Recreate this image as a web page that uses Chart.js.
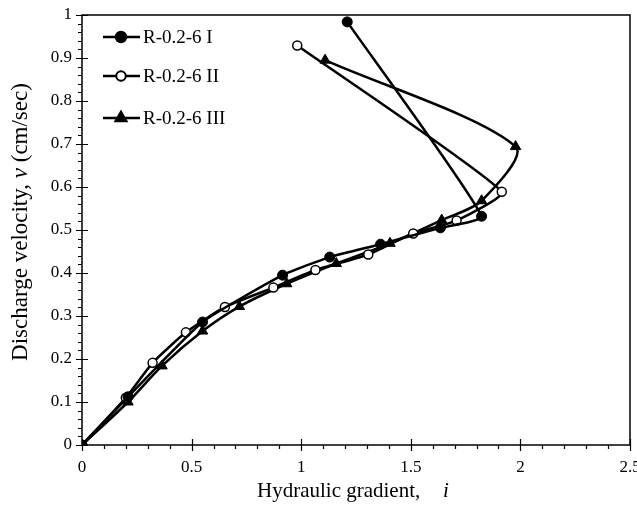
<!DOCTYPE html>
<html>
<head>
<meta charset="utf-8">
<script src="https://cdn.jsdelivr.net/npm/chart.js@4.4.1/dist/chart.umd.min.js"></script>
<style>
  html, body { margin: 0; padding: 0; background: #fff; }
  canvas { display: block; }
</style>
</head>
<body>
<canvas id="chart-flow" width="637" height="505"></canvas>
<script>
var seriesNames = ['R-0.2-6 I', 'R-0.2-6 II', 'R-0.2-6 III'];

// hydraulic gradient i / discharge velocity v (cm/sec)
var gradI   = [0, 0.21, 0.55, 0.915, 1.13, 1.362, 1.635, 1.823, 1.21];
var velI    = [0, 0.112, 0.286, 0.395, 0.437, 0.467, 0.505, 0.532, 0.984];
var gradII  = [0, 0.20, 0.322, 0.474, 0.652, 0.873, 1.065, 1.306, 1.511, 1.709, 1.915, 0.982];
var velII   = [0, 0.11, 0.191, 0.262, 0.321, 0.366, 0.407, 0.443, 0.492, 0.522, 0.589, 0.929];
var gradIII = [0, 0.21, 0.365, 0.55, 0.718, 0.934, 1.16, 1.405, 1.641, 1.823, 1.978, 1.109];
var velIII  = [0, 0.10, 0.184, 0.265, 0.322, 0.375, 0.422, 0.469, 0.523, 0.568, 0.694, 0.895];

var xTicks = [0, 0.5, 1, 1.5, 2, 2.5];
var yTicks = [0, 0.1, 0.2, 0.3, 0.4, 0.5, 0.6, 0.7, 0.8, 0.9, 1];

function toPoints(xs, ys) {
    var pts = [];
    for (var k = 0; k < xs.length; k++) pts.push({ x: xs[k], y: ys[k] });
    return pts;
}

function plainLabel(v) {
    return String(Math.round(v * 100) / 100);
}

var serif = "'Liberation Serif', 'Times New Roman', serif";

var datasets = [{
    label: seriesNames[0],
    data: toPoints(gradI, velI),
    borderColor: '#000', backgroundColor: '#000',
    pointStyle: 'circle', pointRadius: 5, pointBorderWidth: 1,
    pointBackgroundColor: '#000', pointBorderColor: '#000',
    borderWidth: 2.5, tension: 0.15
}, {
    label: seriesNames[1],
    data: toPoints(gradII, velII),
    borderColor: '#000', backgroundColor: '#fff',
    pointStyle: 'circle', pointRadius: 4.5, pointBorderWidth: 1.5,
    pointBackgroundColor: '#fff', pointBorderColor: '#000',
    borderWidth: 2.5, tension: 0.15
}, {
    label: seriesNames[2],
    data: toPoints(gradIII, velIII),
    borderColor: '#000', backgroundColor: '#000',
    pointStyle: 'triangle', pointRadius: 6, pointBorderWidth: 1,
    pointBackgroundColor: '#000', pointBorderColor: '#000',
    borderWidth: 2.5, tension: 0.28
}];

// white page, axis frame, tick marks, legend and axis titles
var decorations = {
    id: 'decorations',
    beforeDraw: function(chart) {
        var c = chart.ctx;
        c.save();
        c.fillStyle = '#fff';
        c.fillRect(0, 0, chart.width, chart.height);
        c.restore();
    },
    afterDraw: function(chart) {
        var c = chart.ctx, a = chart.chartArea;
        var sx = chart.scales.x, sy = chart.scales.y;
        c.save();
        c.strokeStyle = '#000';
        c.lineWidth = 1.5;
        c.strokeRect(a.left, a.top, a.right - a.left, a.bottom - a.top);

        c.lineWidth = 1.2;
        c.beginPath();
        for (var t = 0; t <= 25; t++) {
            var px = Math.round(sx.getPixelForValue(t / 10)) + 0.5;
            if (t % 5 === 0) { c.moveTo(px, a.bottom - 6); c.lineTo(px, a.bottom + 6); }
            else { c.moveTo(px, a.bottom); c.lineTo(px, a.bottom + 4); }
        }
        for (var u = 0; u <= 50; u++) {
            var py = Math.round(sy.getPixelForValue(u / 50)) + 0.5;
            if (u % 5 === 0) { c.moveTo(a.left - 6, py); c.lineTo(a.left + 6, py); }
            else { c.moveTo(a.left - 4, py); c.lineTo(a.left, py); }
        }
        c.stroke();

        // legend
        var rows = [37, 76, 118];
        c.font = '19px ' + serif;
        c.textBaseline = 'middle';
        c.fillStyle = '#000';
        for (var r = 0; r < 3; r++) {
            var ds = chart.data.datasets[r];
            c.lineWidth = 2.5;
            c.beginPath();
            c.moveTo(103, rows[r]); c.lineTo(140, rows[r]);
            c.stroke();
            Chart.helpers.drawPoint(c, {
                pointStyle: ds.pointStyle, radius: ds.pointRadius,
                borderWidth: ds.pointBorderWidth, rotation: 0
            }, 121, rows[r]);
            c.fillStyle = ds.pointBackgroundColor;
            c.strokeStyle = '#000';
            c.lineWidth = ds.pointBorderWidth;
            c.fill(); c.stroke();
            c.fillStyle = '#000';
            c.textAlign = 'left';
            c.fillText(ds.label, 143, rows[r] + 1);
        }

        // axis titles with italic symbols
        c.textAlign = 'left';
        c.font = '21px ' + serif;
        c.fillText('Hydraulic gradient,', 257, 491);
        c.font = 'italic 21px ' + serif;
        c.fillText('i', 443, 491);

        c.translate(21, 222);
        c.rotate(-Math.PI / 2);
        var parts = [['Discharge velocity, ', ''], ['v', 'italic '], [' (cm/sec)', '']];
        var tw = 0;
        parts.forEach(function(p) { c.font = p[1] + '23px ' + serif; tw += c.measureText(p[0]).width; });
        var xx = -tw / 2;
        parts.forEach(function(p) {
            c.font = p[1] + '23px ' + serif;
            c.fillText(p[0], xx, 0);
            xx += c.measureText(p[0]).width;
        });
        c.restore();
    }
};

var ctx = document.getElementById('chart-flow').getContext('2d');
var myChart = new Chart(ctx, {
    type: 'scatter',
    data: { datasets: datasets.map(function(d) { d.showLine = true; return d; }) },
    plugins: [decorations],
    options: {
        responsive: false,
        animation: false,
        devicePixelRatio: 1,
        layout: { padding: { top: 15, right: 7, left: 0, bottom: 0 } },
        plugins: { legend: { display: false }, tooltip: { enabled: false } },
        scales: {
            x: {
                type: 'linear', min: 0, max: 2.5,
                afterFit: function(s) { s.height = 60; s.paddingLeft = 0; s.paddingRight = 0; },
                afterBuildTicks: function(s) { s.ticks = xTicks.map(function(v) { return { value: v }; }); },
                grid: { display: false, drawTicks: false },
                border: { display: false },
                ticks: { padding: 12, color: '#000', font: { family: serif, size: 17 }, maxRotation: 0,
                         callback: plainLabel }
            },
            y: {
                type: 'linear', min: 0, max: 1,
                afterFit: function(s) { s.width = 82; s.paddingTop = 0; s.paddingBottom = 0; },
                afterBuildTicks: function(s) { s.ticks = yTicks.map(function(v) { return { value: v }; }); },
                grid: { display: false, drawTicks: false },
                border: { display: false },
                ticks: { padding: 10, color: '#000', font: { family: serif, size: 17 },
                         callback: plainLabel }
            }
        }
    }
});
</script>
</body>
</html>
